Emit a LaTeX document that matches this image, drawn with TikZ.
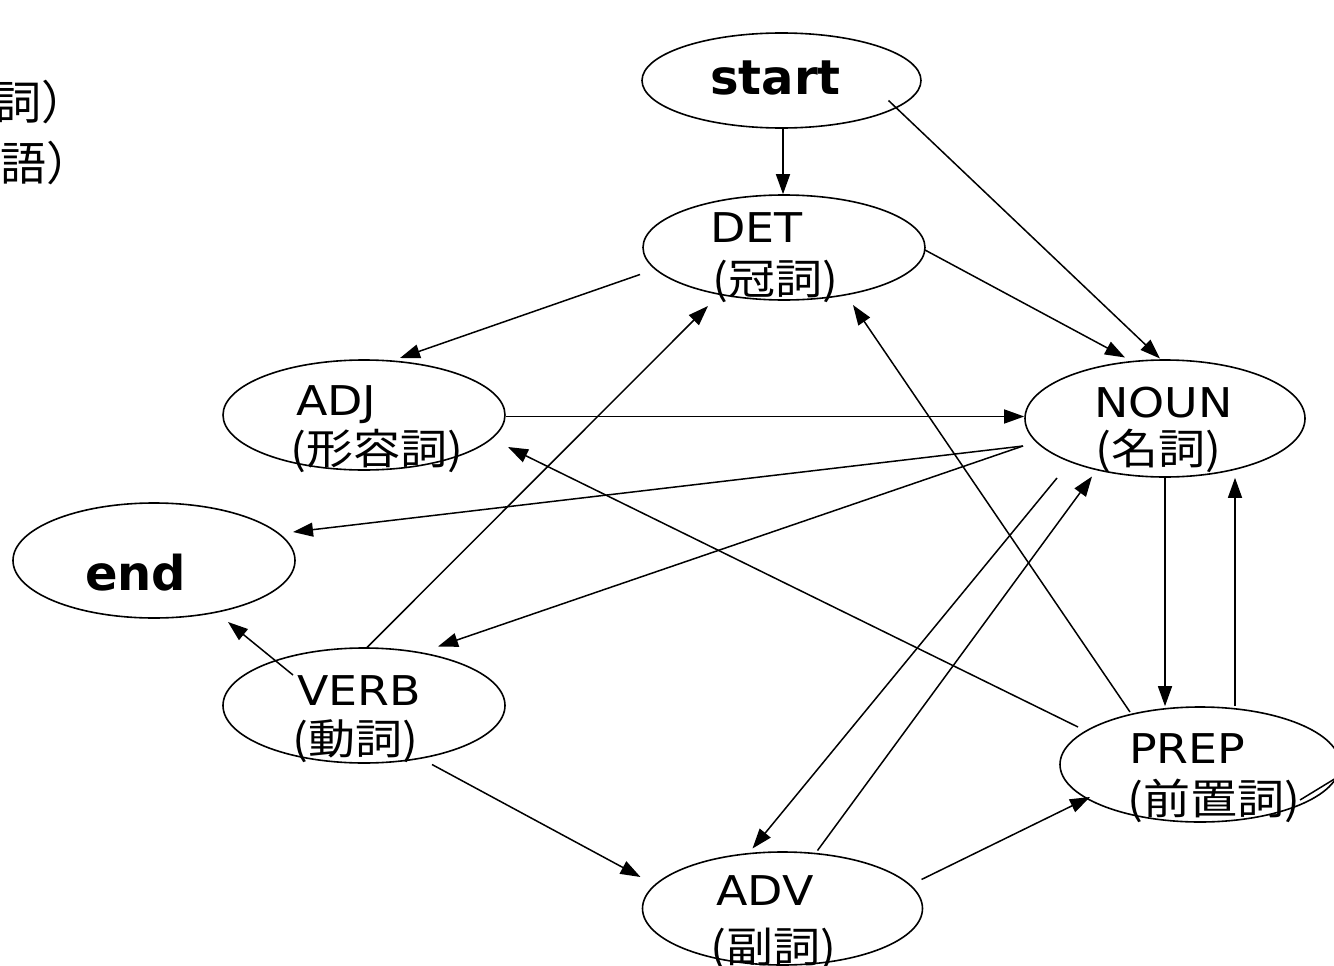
\documentclass[tikz,border=0pt]{standalone}
\usepackage{fontspec}
\usepackage{graphicx}
\usetikzlibrary{shapes.geometric,arrows.meta,calc}
\newfontfamily\dvs{DejaVu Sans}
\newfontfamily\jpfam{Noto Sans CJK JP}
\newcommand\ensz{\dvs\fontsize{41}{41}\selectfont}
\newcommand\bgsz{\dvs\bfseries\fontsize{48}{48}\selectfont}
\newcommand\jpsz{\jpfam\fontsize{42}{42}\selectfont}
\newcommand\fragsz{\jpfam\fontsize{46}{46}\selectfont}
\newcommand\hw[1]{\scalebox{1.12}[1]{#1}}
\begin{document}
\begin{tikzpicture}[x=1pt,y=-1pt,
  st/.style={draw, ellipse, line width=1.6pt, minimum width=281pt, minimum height=115pt, inner sep=0pt},
  en/.style={font=\ensz, anchor=base west, inner sep=0pt},
  jp/.style={font=\jpsz, anchor=base west, inner sep=0pt},
  big/.style={font=\bgsz, anchor=base west, inner sep=0pt},
  frag/.style={font=\fragsz, anchor=base east, inner sep=0pt},
  edge/.style={line width=1.5pt, -{Triangle[length=20pt,width=14pt]}},
  plain/.style={line width=1.5pt}]
\useasboundingbox (0,0) rectangle (1334,966);

% cropped fragments at top left
\node[frag] (frag1) at (88,120) {詞）};
\node[frag] (frag2) at (93,180) {語）};

% ellipses
\node[st, minimum width=279pt, minimum height=95pt] (start) at (781.5,80.5) {};
\node[st, minimum width=282pt, minimum height=105pt] (det) at (784,247.5) {};
\node[st, minimum width=282pt, minimum height=110pt] (adj) at (364,415) {};
\node[st, minimum width=280pt, minimum height=117pt] (noun) at (1165,418.5) {};
\node[st, minimum width=282pt, minimum height=115pt] (end) at (154,560.5) {};
\node[st, minimum width=282pt, minimum height=115pt] (verb) at (364,705.5) {};
\node[st, minimum width=280pt, minimum height=115pt] (prep) at (1200,764.5) {};
\node[st, minimum width=280pt, minimum height=113pt] (adv) at (782.5,908.5) {};

% texts
\node[big] (startT) at (710,95) {start};
\node[big] (endT) at (85,590) {end};
\node[en] (detE) at (710,242) {\hw{DET}};
\node[jp] (detJ) at (712,294) {\hw{(冠詞)}};
\node[en] (adjE) at (296,415) {\hw{ADJ}};
\node[jp] (adjJ) at (290,464) {\hw{(形容詞)}};
\node[en] (nounE) at (1094,417) {\hw{NOUN}};
\node[jp] (nounJ) at (1095,464) {\hw{(名詞)}};
\node[en] (verbE) at (297,705) {\hw{VERB}};
\node[jp] (verbJ) at (292,754) {\hw{(動詞)}};
\node[en] (prepE) at (1129,763) {\hw{PREP}};
\node[jp] (prepJ) at (1127,814) {\hw{(前置詞)}};
\node[en] (advE) at (716,905) {\hw{ADV}};
\node[jp] (advJ) at (710,962) {\hw{(副詞)}};

% helper coordinates
\coordinate (sd) at ($(start.south)+(1.5,0)$);
\coordinate (pn) at ($(prep.north)+(35,0)$);
\coordinate (offR) at ($(prep)+(150,5)$);

% connectors
\draw[edge] (sd) -- (sd |- det.north);
\draw[edge] ($(start)+(107,20)$) -- ($(noun)+(-5,-60)$);
\draw[edge] ($(det)+(141,2.5)$) -- ($(noun)+(-40,-61)$);
\draw[edge] ($(det)+(-144,27)$) -- ($(adj)+(36,-57)$);
\draw[edge] ($(adj.east)+(0,1.5)$) -- ($(noun.west)+(0,-2)$);
\draw[edge] ($(noun)+(-142,27.5)$) -- ($(end)+(139,-28.5)$);
\draw[edge] ($(noun)+(-142,27.5)$) -- ($(verb)+(74,-59)$);
\draw[edge] ($(verb)+(3,-58)$) -- ($(det)+(-76,58.5)$);
\draw[edge] ($(verb)+(-71,-30.5)$) -- ($(end)+(74,61.5)$);
\draw[edge] ($(verb)+(68,59)$) -- ($(adv)+(-142,-31.5)$);
\draw[edge] ($(adv)+(139,-29)$) -- ($(prep)+(-110,32.5)$);
\draw[edge] ($(adv)+(35,-58)$) -- ($(noun)+(-73,58)$);
\draw[edge] ($(noun)+(-108,59.5)$) -- ($(adv)+(-30,-60)$);
\draw[edge] (noun.south) -- (noun.south |- prep.north);
\draw[edge] (pn) -- (pn |- noun.south);
\draw[edge] ($(prep)+(-70,-52.5)$) -- ($(det)+(69,57.5)$);
\draw[edge] ($(prep)+(-122,-37.5)$) -- ($(adj)+(144,32)$);
\draw[plain] ($(prep)+(100,35.5)$) -- (offR);
\end{tikzpicture}
\end{document}
